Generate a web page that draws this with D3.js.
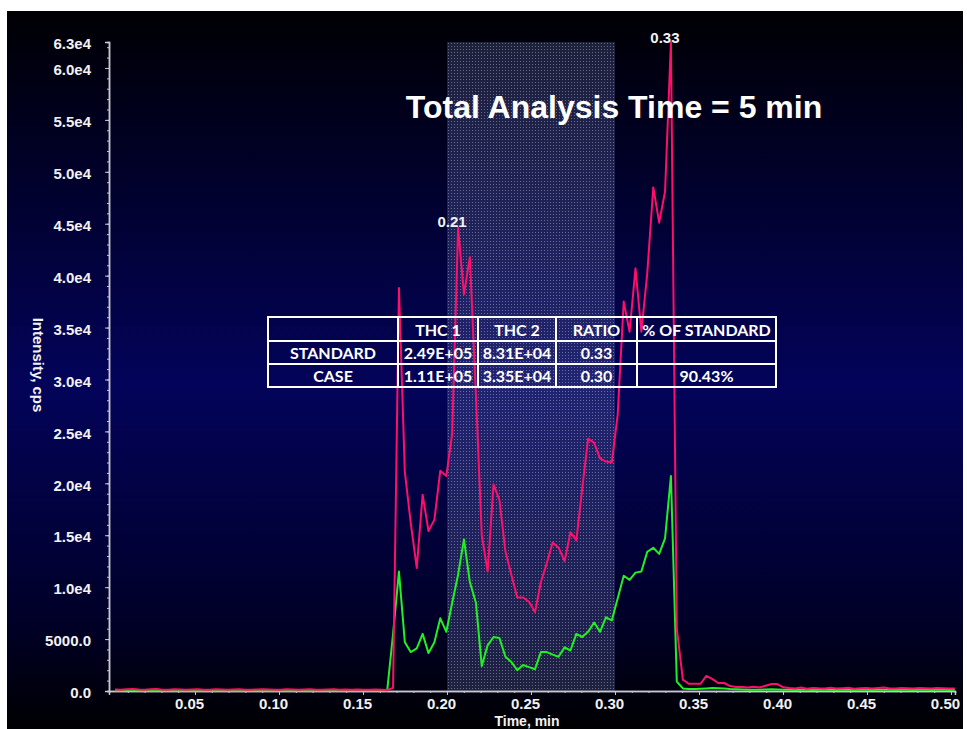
<!DOCTYPE html>
<html>
<head>
<meta charset="utf-8">
<script src="https://cdn.jsdelivr.net/npm/d3@7"></script>
<style>
  html, body { margin: 0; padding: 0; background: #ffffff; }
  svg { display: block; }
</style>
</head>
<body>
<svg id="chart" width="967" height="729"></svg>
<script>
// Acquisition times (min), one per scan
const times = [
  0.0024, 0.0060, 0.0095, 0.0130, 0.0165, 0.0200, 0.0236, 0.0271, 0.0306, 0.0341,
  0.0376, 0.0412, 0.0447, 0.0482, 0.0517, 0.0552, 0.0588, 0.0623, 0.0658, 0.0693,
  0.0728, 0.0764, 0.0799, 0.0834, 0.0869, 0.0904, 0.0940, 0.0975, 0.1010, 0.1045,
  0.1080, 0.1116, 0.1151, 0.1186, 0.1221, 0.1256, 0.1292, 0.1327, 0.1362, 0.1397,
  0.1432, 0.1468, 0.1503, 0.1538, 0.1573, 0.1608, 0.1644, 0.1679, 0.1714, 0.1749,
  0.1784, 0.1820, 0.1855, 0.1890, 0.1925, 0.1960, 0.1996, 0.2031, 0.2066, 0.2101,
  0.2136, 0.2172, 0.2207, 0.2242, 0.2277, 0.2312, 0.2348, 0.2383, 0.2418, 0.2453,
  0.2488, 0.2524, 0.2559, 0.2594, 0.2629, 0.2664, 0.2700, 0.2735, 0.2770, 0.2805,
  0.2840, 0.2876, 0.2911, 0.2946, 0.2981, 0.3016, 0.3052, 0.3087, 0.3122, 0.3157,
  0.3192, 0.3228, 0.3263, 0.3298, 0.3333, 0.3368, 0.3404, 0.3439, 0.3474, 0.3509,
  0.3544, 0.3580, 0.3615, 0.3650, 0.3685, 0.3720, 0.3756, 0.3791, 0.3826, 0.3861,
  0.3896, 0.3932, 0.3967, 0.4002, 0.4037, 0.4072, 0.4108, 0.4143, 0.4178, 0.4213,
  0.4248, 0.4284, 0.4319, 0.4354, 0.4389, 0.4424, 0.4460, 0.4495, 0.4530, 0.4565,
  0.4600, 0.4636, 0.4671, 0.4706, 0.4741, 0.4776, 0.4812, 0.4847, 0.4882, 0.4917,
  0.4952, 0.4988, 0.5023
];

// THC transition 1 (pink trace), cps
const thc1Intensity = [
  150, 120, 180, 200, 140, 110, 160, 190, 130, 120,
  170, 150, 110, 140, 180, 130, 120, 160, 150, 110,
  140, 170, 130, 120, 150, 180, 140, 110, 130, 160,
  150, 120, 140, 170, 130, 110, 150, 160, 120, 140,
  130, 150, 120, 110, 140, 130, 100, 300,
  38800, 21100, 16200, 11850, 18900, 15400, 16500, 21200, 20700, 24800,
  44600, 38200, 41800, 28500, 15000, 11500, 19900, 18400, 13400, 11200,
  9000, 9000, 8600, 7600, 10500, 12300, 14300, 13800, 12500, 15300,
  14500, 19500, 24300, 23900, 22400, 22100, 22000, 26600, 37500, 34600,
  40700, 34600, 40200, 48500, 45100, 48100, 62500, 6000, 1100, 700,
  700, 700, 1450, 1150, 770, 770, 480, 385, 380, 330,
  400, 330, 500, 670, 670, 350,
  280, 250, 330, 220, 300, 260, 240, 320, 230, 270,
  310, 220, 260, 300, 240, 280, 330, 250, 230, 290,
  260, 240, 300, 270, 230, 280, 260, 240, 250
];

// THC transition 2 (green trace), cps
const thc2Intensity = [
  60, 50, 70, 80, 60, 50, 60, 70, 50, 60,
  70, 60, 50, 60, 80, 60, 50, 70, 60, 50,
  60, 70, 50, 60, 60, 80, 60, 50, 60, 70,
  60, 50, 60, 70, 50, 60, 60, 70, 50, 60,
  60, 50, 70, 60, 50, 60, 40, 5500,
  11500, 4700, 3750, 4100, 5500, 3650, 4700, 7000, 5700, 8500,
  11200, 14600, 10500, 8500, 2400, 4400, 5200, 5100, 3300, 2800,
  2000, 2500, 2300, 2100, 3750, 3750, 3500, 3300, 4200, 3900,
  5500, 5200, 5700, 6600, 5700, 7100, 6800, 8900, 11100, 10700,
  11400, 11500, 13400, 13800, 13200, 14700, 20700,
  900, 250, 200, 200, 220, 250, 280, 260, 240, 200,
  180, 150, 120, 110, 130, 150, 160, 140, 120, 110,
  100, 120, 110, 100, 120, 130, 110, 100, 120, 110,
  100, 110, 120, 100, 110, 130, 120, 100, 110, 120,
  100, 110, 120, 100, 110, 120, 100, 110
];

// Axis ticks
const xTickValues = [0.05, 0.10, 0.15, 0.20, 0.25, 0.30, 0.35, 0.40, 0.45, 0.50];
const xTickLabels = ["0.05", "0.10", "0.15", "0.20", "0.25", "0.30", "0.35", "0.40", "0.45", "0.50"];
const yTickValues = [0, 5000, 10000, 15000, 20000, 25000, 30000, 35000, 40000, 45000, 50000, 55000, 60000, 62500];
const yTickLabels = ["0.0", "5000.0", "1.0e4", "1.5e4", "2.0e4", "2.5e4", "3.0e4", "3.5e4", "4.0e4", "4.5e4", "5.0e4", "5.5e4", "6.0e4", "6.3e4"];

// Shaded retention window (min)
const windowRange = [0.20, 0.30];

// Results table
const tableHeader = ["", "THC 1", "THC 2", "RATIO", "% OF STANDARD"];
const tableRows = [
  ["STANDARD", "2.49E+05", "8.31E+04", "0.33", ""],
  ["CASE", "1.11E+05", "3.35E+04", "0.30", "90.43%"]
];

const titleText = "Total Analysis Time = 5 min";

// ---------------------------------------------------------------
const svg = d3.select("#chart");
const W = 967, H = 729;

const defs = svg.append("defs");
const bg = defs.append("linearGradient")
  .attr("id", "bgGrad").attr("x1", 0).attr("y1", 0).attr("x2", 0).attr("y2", 1);
bg.append("stop").attr("offset", "0%").attr("stop-color", "#000003");
bg.append("stop").attr("offset", "12%").attr("stop-color", "#000018");
bg.append("stop").attr("offset", "52%").attr("stop-color", "#03035a");
bg.append("stop").attr("offset", "85%").attr("stop-color", "#000028");
bg.append("stop").attr("offset", "100%").attr("stop-color", "#000002");

const pat = defs.append("pattern")
  .attr("id", "dots").attr("patternUnits", "userSpaceOnUse")
  .attr("width", 3).attr("height", 3);
pat.append("rect").attr("width", 3).attr("height", 3).attr("fill", "rgba(100,110,170,0.3)");
pat.append("rect").attr("x", 1).attr("y", 1).attr("width", 1).attr("height", 1).attr("fill", "rgba(190,195,225,0.45)");

svg.append("rect").attr("width", W).attr("height", H).attr("fill", "#ffffff");
svg.append("rect").attr("x", 7).attr("y", 11).attr("width", 956).attr("height", 718).attr("fill", "url(#bgGrad)");

const x = d3.scaleLinear().domain([-0.0012, 0.5024]).range([109, 955]);
const y = d3.scaleLinear().domain([0, 62500]).range([691, 42]);

// shaded window
svg.append("rect")
  .attr("x", x(windowRange[0])).attr("y", y(62500))
  .attr("width", x(windowRange[1]) - x(windowRange[0]))
  .attr("height", y(0) - y(62500))
  .attr("fill", "url(#dots)");

// axes
const axisColor = "#c8c8d0";
const labelFont = "'Liberation Sans', Arial, sans-serif";

const yMinor = svg.append("g").attr("transform", "translate(109,0)")
  .call(d3.axisLeft(y).tickValues(d3.range(0, 62001, 1000)).tickSize(2).tickFormat(""));
const yAxis = svg.append("g").attr("transform", "translate(109,0)")
  .call(d3.axisLeft(y).tickValues(yTickValues).tickSize(4)
    .tickFormat((d, i) => yTickLabels[i]).tickPadding(14));
const xMinor = svg.append("g").attr("transform", "translate(0,691)")
  .call(d3.axisBottom(x).tickValues(d3.range(0.01, 0.501, 0.01)).tickSize(2).tickFormat(""));
const xAxis = svg.append("g").attr("transform", "translate(0,691)")
  .call(d3.axisBottom(x).tickValues(xTickValues).tickSize(4)
    .tickFormat((d, i) => xTickLabels[i]));

[yMinor, yAxis, xMinor, xAxis].forEach(g => {
  g.select(".domain").attr("stroke", axisColor).attr("stroke-width", 1.5);
  g.selectAll(".tick line").attr("stroke", axisColor);
});
[yAxis, xAxis].forEach(g => {
  g.selectAll(".tick text")
    .attr("fill", "#f2f2f2").attr("font-family", labelFont)
    .attr("font-weight", "bold").attr("font-size", 15);
});
xAxis.selectAll(".tick text").attr("x", -6).attr("y", 18).attr("dy", 0);
yAxis.selectAll(".tick text").attr("dy", "0.45em");

// traces
const series = times.map((t, i) => ({ t, a: thc1Intensity[i], b: thc2Intensity[i] }));
const lineA = d3.line().x(d => x(d.t)).y(d => y(d.a));
const lineB = d3.line().x(d => x(d.t)).y(d => y(d.b));

svg.append("path").datum(series).attr("d", lineB)
  .attr("fill", "none").attr("stroke", "#22f022").attr("stroke-width", 2).attr("stroke-linejoin", "round");
svg.append("path").datum(series).attr("d", lineA)
  .attr("fill", "none").attr("stroke", "#ff0f6a").attr("stroke-width", 2).attr("stroke-linejoin", "round");

// apex labels
function apex(lo, hi) {
  const sub = series.filter(d => d.t >= lo && d.t <= hi);
  return sub.reduce((m, d) => (d.a > m.a ? d : m), sub[0]);
}
[apex(0.19, 0.23), apex(0.31, 0.35)].forEach(p => {
  svg.append("text")
    .attr("x", x(p.t) - 6).attr("y", y(p.a) + (p.a > 60000 ? 1 : -1))
    .attr("text-anchor", "middle")
    .attr("fill", "#f2f2f2").attr("font-family", labelFont)
    .attr("font-weight", "bold").attr("font-size", 15)
    .text(d3.format(".2f")(p.t));
});

// axis titles
svg.append("text")
  .attr("transform", "translate(33,365) rotate(90)")
  .attr("text-anchor", "middle")
  .attr("fill", "#f2f2f2").attr("font-family", labelFont)
  .attr("font-weight", "bold").attr("font-size", 15)
  .text("Intensity, cps");
svg.append("text")
  .attr("x", 527).attr("y", 726)
  .attr("text-anchor", "middle")
  .attr("fill", "#f2f2f2").attr("font-family", labelFont)
  .attr("font-weight", "bold").attr("font-size", 14)
  .text("Time, min");

// title
svg.append("text")
  .attr("x", 614).attr("y", 118)
  .attr("text-anchor", "middle")
  .attr("fill", "#ffffff").attr("font-family", labelFont)
  .attr("font-weight", "bold").attr("font-size", 32)
  .text(titleText);

// results table
const colEdges = [268, 398, 478, 556, 637, 776];
const rowEdges = [317, 341, 364, 387];
const tbl = svg.append("g");
rowEdges.forEach(ry => tbl.append("line")
  .attr("x1", colEdges[0] - 1).attr("x2", colEdges[colEdges.length - 1] + 1)
  .attr("y1", ry).attr("y2", ry).attr("stroke", "#ffffff").attr("stroke-width", 2));
colEdges.forEach(cx => tbl.append("line")
  .attr("x1", cx).attr("x2", cx)
  .attr("y1", rowEdges[0]).attr("y2", rowEdges[rowEdges.length - 1])
  .attr("stroke", "#ffffff").attr("stroke-width", 2));
const tableFont = "Lato, 'Open Sans', sans-serif";
[tableHeader].concat(tableRows).forEach((row, r) => {
  row.forEach((cell, c) => {
    tbl.append("text")
      .attr("x", (colEdges[c] + colEdges[c + 1]) / 2)
      .attr("y", rowEdges[r + 1] - 5)
      .attr("text-anchor", "middle")
      .attr("fill", "#ffffff").attr("font-family", tableFont)
      .attr("font-weight", "bold").attr("font-size", 16)
      .text(cell);
  });
});
</script>
</body>
</html>
